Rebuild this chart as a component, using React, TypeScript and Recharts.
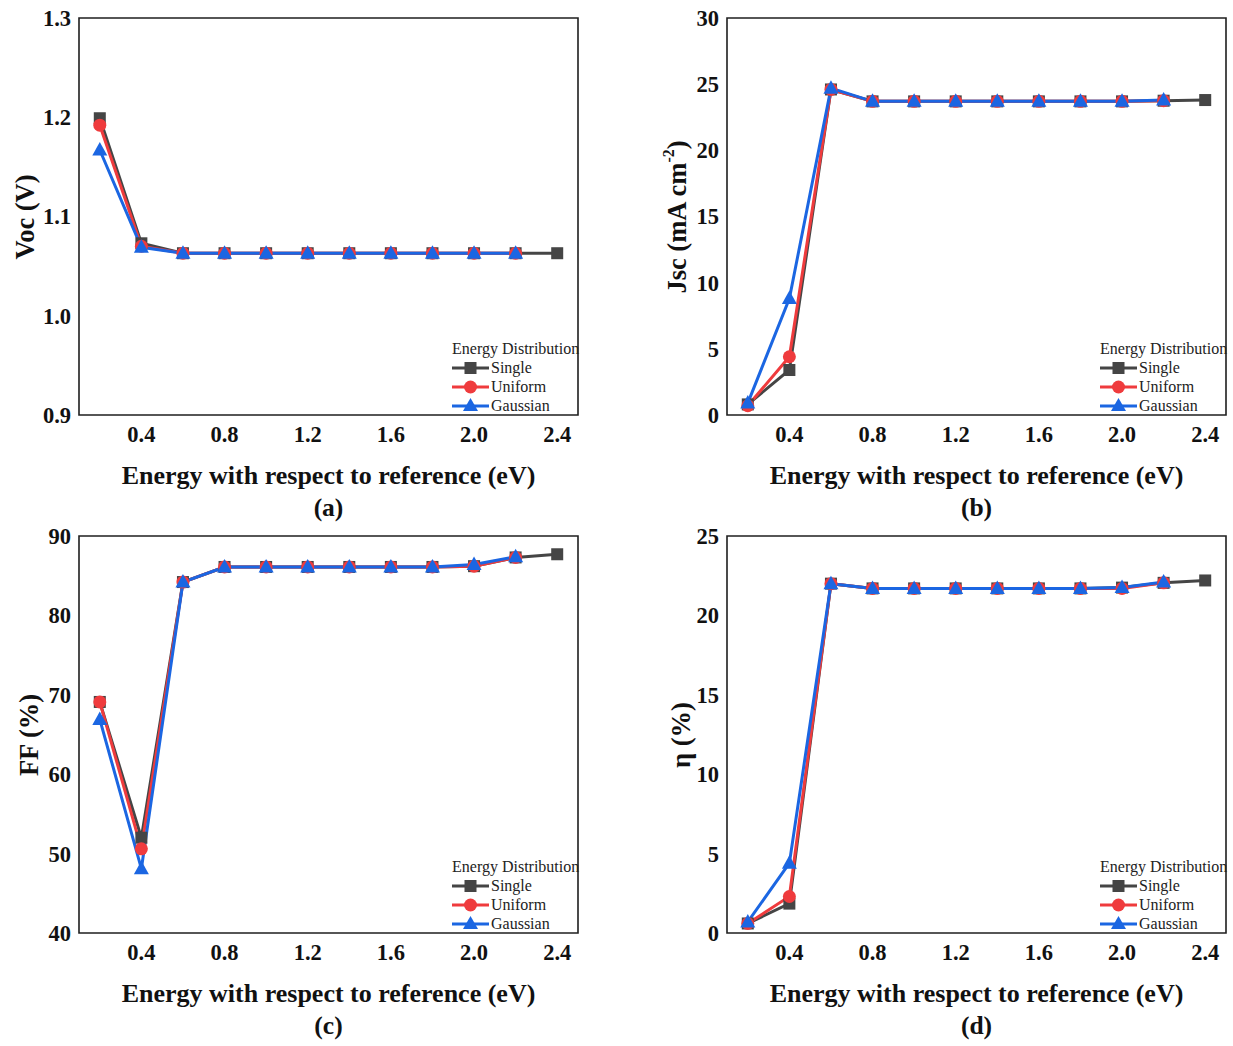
import React from 'react';
import { LineChart, Line, XAxis, YAxis, ReferenceArea } from 'recharts';

// Energy positions of the trap level (eV)
const energies = [0.2, 0.4, 0.6, 0.8, 1.0, 1.2, 1.4, 1.6, 1.8, 2.0, 2.2, 2.4];
const xTicks = [0.4, 0.8, 1.2, 1.6, 2.0, 2.4];

// (a) Voc (V)
const vocSingle = [1.199, 1.073, 1.063, 1.063, 1.063, 1.063, 1.063, 1.063, 1.063, 1.063, 1.063, 1.063];
const vocUniform = [1.192, 1.07, 1.063, 1.063, 1.063, 1.063, 1.063, 1.063, 1.063, 1.063, 1.063];
const vocGaussian = [1.167, 1.069, 1.063, 1.063, 1.063, 1.063, 1.063, 1.063, 1.063, 1.063, 1.063];
const vocTicks = [0.9, 1.0, 1.1, 1.2, 1.3];

// (b) Jsc (mA cm-2)
const jscSingle = [0.8, 3.4, 24.6, 23.7, 23.7, 23.7, 23.7, 23.7, 23.7, 23.7, 23.75, 23.8];
const jscUniform = [0.7, 4.4, 24.6, 23.7, 23.7, 23.7, 23.7, 23.7, 23.7, 23.7, 23.75];
const jscGaussian = [0.9, 8.8, 24.7, 23.7, 23.7, 23.7, 23.7, 23.7, 23.7, 23.7, 23.8];
const jscTicks = [0, 5, 10, 15, 20, 25, 30];

// (c) FF (%)
const ffSingle = [69.1, 52.0, 84.2, 86.1, 86.1, 86.1, 86.1, 86.1, 86.1, 86.2, 87.3, 87.7];
const ffUniform = [69.1, 50.6, 84.2, 86.1, 86.1, 86.1, 86.1, 86.1, 86.1, 86.2, 87.3];
const ffGaussian = [66.9, 48.1, 84.2, 86.1, 86.1, 86.1, 86.1, 86.1, 86.1, 86.4, 87.4];
const ffTicks = [40, 50, 60, 70, 80, 90];

// (d) efficiency (%)
const etaSingle = [0.6, 1.85, 22.0, 21.7, 21.7, 21.7, 21.7, 21.7, 21.7, 21.75, 22.05, 22.2];
const etaUniform = [0.6, 2.3, 22.0, 21.7, 21.7, 21.7, 21.7, 21.7, 21.7, 21.7, 22.05];
const etaGaussian = [0.7, 4.4, 22.0, 21.7, 21.7, 21.7, 21.7, 21.7, 21.7, 21.75, 22.1];
const etaTicks = [0, 5, 10, 15, 20, 25];

const SINGLE = '#454545';
const UNIFORM = '#ef3b3d';
const GAUSSIAN = '#1b66e2';
const FONT = '"Liberation Serif", "Times New Roman", serif';

const PLOT_LEFT = 79;
const PLOT_TOP = 18;
const PLOT_W = 499;
const PLOT_H = 397;
const CHART_W = 600;
const CHART_H = 460;

function rows(single: number[], uniform: number[], gaussian: number[]) {
  return energies.map((x, i) => ({
    x,
    single: single[i],
    uniform: uniform[i],
    gaussian: gaussian[i],
  }));
}

const squareDot = (p: any) =>
  p.cy == null || p.value == null ? (
    <g key={`sq-${p.index}`} />
  ) : (
    <rect key={`sq-${p.index}`} x={p.cx - 6} y={p.cy - 6} width={12} height={12} fill={SINGLE} />
  );

const circleDot = (p: any) =>
  p.cy == null || p.value == null ? (
    <g key={`ci-${p.index}`} />
  ) : (
    <circle key={`ci-${p.index}`} cx={p.cx} cy={p.cy} r={6.5} fill={UNIFORM} />
  );

const triangleDot = (p: any) =>
  p.cy == null || p.value == null ? (
    <g key={`tr-${p.index}`} />
  ) : (
    <polygon
      key={`tr-${p.index}`}
      points={`${p.cx},${p.cy - 8} ${p.cx + 7.5},${p.cy + 5.5} ${p.cx - 7.5},${p.cy + 5.5}`}
      fill={GAUSSIAN}
    />
  );

function LegendBox() {
  const items = [
    { name: 'Single', color: SINGLE, shape: 'square' },
    { name: 'Uniform', color: UNIFORM, shape: 'circle' },
    { name: 'Gaussian', color: GAUSSIAN, shape: 'triangle' },
  ];
  return (
    <div
      style={{
        position: 'absolute',
        left: 452,
        top: 339,
        fontFamily: FONT,
        fontSize: 16,
        color: '#222',
        lineHeight: '19px',
        whiteSpace: 'nowrap',
      }}
    >
      <div>Energy Distribution</div>
      {items.map((it) => (
        <div key={it.name} style={{ display: 'flex', alignItems: 'center', height: 19 }}>
          <svg width={39} height={19}>
            <line x1={0} y1={10} x2={37} y2={10} stroke={it.color} strokeWidth={3} />
            {it.shape === 'square' && <rect x={12.5} y={4} width={12} height={12} fill={it.color} />}
            {it.shape === 'circle' && <circle cx={18.5} cy={10} r={6.5} fill={it.color} />}
            {it.shape === 'triangle' && <polygon points="18.5,2 26,15 11,15" fill={it.color} />}
          </svg>
          <span>{it.name}</span>
        </div>
      ))}
    </div>
  );
}

interface PanelProps {
  left: number;
  top: number;
  letter: string;
  yTitle: React.ReactNode;
  yTitleX: number;
  data: Array<{ [key: string]: any }>;
  yDomain: [number, number];
  yTicks: number[];
  yFormat: (v: number) => string;
}

function Panel({ left, top, letter, yTitle, yTitleX, data, yDomain, yTicks, yFormat }: PanelProps) {
  const tickStyle = { fill: '#111', fontSize: 22.5, fontWeight: 700, fontFamily: FONT };
  const plotCenterX = PLOT_LEFT + PLOT_W / 2;
  const plotCenterY = PLOT_TOP + PLOT_H / 2;
  return (
    <div style={{ position: 'absolute', left, top, width: CHART_W, height: 520 }}>
      <LineChart
        width={CHART_W}
        height={CHART_H}
        data={data}
        margin={{ top: PLOT_TOP, left: PLOT_LEFT - 60, right: CHART_W - PLOT_LEFT - PLOT_W, bottom: CHART_H - PLOT_TOP - PLOT_H - 30 }}
      >
        <XAxis
          type="number"
          dataKey="x"
          domain={[0.1, 2.5]}
          ticks={xTicks}
          tickFormatter={(v: number) => v.toFixed(1)}
          tick={tickStyle}
          tickLine={false}
          axisLine={false}
          tickMargin={5}
          height={30}
          interval={0}
        />
        <YAxis
          type="number"
          domain={yDomain}
          ticks={yTicks}
          tickFormatter={yFormat}
          tick={tickStyle}
          tickLine={false}
          axisLine={false}
          width={60}
          interval={0}
        />
        <ReferenceArea
          x1={0.1}
          x2={2.5}
          y1={yDomain[0]}
          y2={yDomain[1]}
          fill="none"
          stroke="#1f1f1f"
          strokeWidth={1.6}
          fillOpacity={0}
        />
        <Line
          dataKey="single"
          stroke={SINGLE}
          strokeWidth={3}
          dot={squareDot}
          activeDot={false}
          isAnimationActive={false}
        />
        <Line
          dataKey="uniform"
          stroke={UNIFORM}
          strokeWidth={3}
          dot={circleDot}
          activeDot={false}
          isAnimationActive={false}
        />
        <Line
          dataKey="gaussian"
          stroke={GAUSSIAN}
          strokeWidth={3}
          dot={triangleDot}
          activeDot={false}
          isAnimationActive={false}
        />
      </LineChart>
      <LegendBox />
      <div
        style={{
          position: 'absolute',
          left: yTitleX,
          top: plotCenterY,
          transform: 'translate(-50%, -50%) rotate(-90deg)',
          fontFamily: FONT,
          fontWeight: 700,
          fontSize: 26.5,
          whiteSpace: 'nowrap',
          color: '#111',
        }}
      >
        {yTitle}
      </div>
      <div
        style={{
          position: 'absolute',
          left: plotCenterX,
          top: 476,
          transform: 'translate(-50%, -50%)',
          fontFamily: FONT,
          fontWeight: 700,
          fontSize: 26,
          whiteSpace: 'nowrap',
          color: '#111',
        }}
      >
        Energy with respect to reference (eV)
      </div>
      <div
        style={{
          position: 'absolute',
          left: plotCenterX,
          top: 508,
          transform: 'translate(-50%, -50%)',
          fontFamily: FONT,
          fontWeight: 700,
          fontSize: 25.5,
          whiteSpace: 'nowrap',
          color: '#111',
        }}
      >
        {letter}
      </div>
    </div>
  );
}

const fixed1 = (v: number) => v.toFixed(1);
const whole = (v: number) => String(v);

export default function App() {
  return (
    <div style={{ position: 'absolute', left: 0, top: 0, width: 1233, height: 1046, background: '#fff' }}>
      <Panel
        left={0}
        top={0}
        letter="(a)"
        yTitle="Voc (V)"
        yTitleX={25}
        data={rows(vocSingle, vocUniform, vocGaussian)}
        yDomain={[0.9, 1.3]}
        yTicks={vocTicks}
        yFormat={fixed1}
      />
      <Panel
        left={648}
        top={0}
        letter="(b)"
        yTitle={
          <span>
            Jsc (mA cm<sup style={{ fontSize: 16, verticalAlign: 'top', lineHeight: '14px' }}>-2</sup>)
          </span>
        }
        yTitleX={29}
        data={rows(jscSingle, jscUniform, jscGaussian)}
        yDomain={[0, 30]}
        yTicks={jscTicks}
        yFormat={whole}
      />
      <Panel
        left={0}
        top={518}
        letter="(c)"
        yTitle="FF (%)"
        yTitleX={29}
        data={rows(ffSingle, ffUniform, ffGaussian)}
        yDomain={[40, 90]}
        yTicks={ffTicks}
        yFormat={whole}
      />
      <Panel
        left={648}
        top={518}
        letter="(d)"
        yTitle="η (%)"
        yTitleX={33}
        data={rows(etaSingle, etaUniform, etaGaussian)}
        yDomain={[0, 25]}
        yTicks={etaTicks}
        yFormat={whole}
      />
    </div>
  );
}
